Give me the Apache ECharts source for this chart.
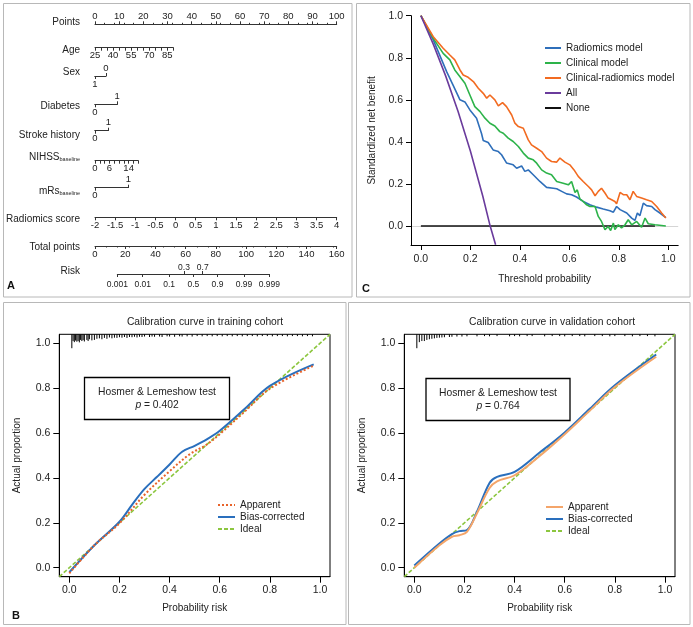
<!DOCTYPE html>
<html><head><meta charset="utf-8">
<script src="https://cdn.jsdelivr.net/npm/echarts@6/dist/echarts.min.js"></script>
<style>html,body{margin:0;padding:0;background:#fff}#c{width:693px;height:627px}</style>
</head><body><div id="c"></div>
<script>
// ---------------- DATA ----------------
// Nomogram (A)
const nomoRowNames = ['Points','Age','Sex','Diabetes','Stroke history','NIHSS','mRs','Radiomics score','Total points','Risk'];
const pointsTicks = [0,10,20,30,40,50,60,70,80,90,100];
const ageTicks = [25,30,35,40,45,50,55,60,65,70,75,80,85,90];
const ageLabels = [25,40,55,70,85];
const agePointsAtMax = 32.4;       // points for age 90
const sexPoints = 4.5;             // points for Sex = 0
const diabetesPoints = 9.2;        // points for Diabetes = 1
const strokePoints = 5.5;          // points for Stroke history = 1
const nihssTicks = [0,2,4,6,8,10,12,14,16,18];
const nihssLabels = [0,6,14];
const nihssPointsAtMax = 17.9;
const mrsPoints = 13.8;            // points for mRs = 1
const radTicks = [-2,-1.5,-1,-0.5,0,0.5,1,1.5,2,2.5,3,3.5,4];
const totalTicks = [0,20,40,60,80,100,120,140,160];
const riskLabels = ['0.001','0.01','0.1','0.3','0.5','0.7','0.9','0.99','0.999'];
const riskTotalPoints = [14.8,31.6,49.1,58.9,65.1,71.3,81.1,98.6,115.4];
const riskTopLabels = ['0.3','0.7'];

// Decision curve (C)
const dcaNames = ['Radiomics model','Clinical model','Clinical-radiomics model','All','None'];
const dcaRadiomics = [[0,1],[0.05,0.885],[0.104,0.734],[0.13,0.67],[0.158,0.6],[0.178,0.59],[0.198,0.552],[0.225,0.513],[0.245,0.44],[0.252,0.407],[0.272,0.397],[0.292,0.362],[0.313,0.354],[0.326,0.339],[0.346,0.3],[0.373,0.291],[0.387,0.275],[0.407,0.286],[0.42,0.26],[0.434,0.267],[0.454,0.244],[0.481,0.212],[0.508,0.184],[0.535,0.18],[0.549,0.177],[0.569,0.165],[0.589,0.153],[0.609,0.149],[0.629,0.138],[0.656,0.117],[0.683,0.101],[0.71,0.09],[0.737,0.081],[0.764,0.073],[0.778,0.066],[0.791,0.093],[0.805,0.078],[0.832,0.062],[0.852,0.038],[0.865,0.027],[0.875,0.062],[0.885,0.049],[0.899,0.109],[0.912,0.097],[0.933,0.093],[0.946,0.078],[0.966,0.062],[0.99,0.04]];
const dcaClinical = [[0,1],[0.05,0.892],[0.09,0.821],[0.117,0.79],[0.137,0.742],[0.158,0.71],[0.178,0.679],[0.198,0.623],[0.218,0.568],[0.239,0.544],[0.259,0.513],[0.279,0.489],[0.299,0.476],[0.319,0.449],[0.333,0.441],[0.353,0.418],[0.373,0.402],[0.394,0.378],[0.414,0.347],[0.434,0.323],[0.454,0.315],[0.468,0.299],[0.488,0.267],[0.508,0.252],[0.528,0.244],[0.549,0.212],[0.575,0.204],[0.596,0.196],[0.609,0.212],[0.623,0.16],[0.632,0.172],[0.643,0.128],[0.656,0.117],[0.67,0.101],[0.683,0.093],[0.704,0.093],[0.717,0.046],[0.73,0.022],[0.744,-0.017],[0.757,-0.002],[0.767,-0.021],[0.778,0.014],[0.784,-0.017],[0.798,0.006],[0.811,-0.009],[0.825,0.006],[0.838,0.03],[0.852,0.006],[0.872,0.022],[0.892,-0.006],[0.906,0.038],[0.919,0.011],[0.946,0.006],[0.99,0]];
const dcaCombined = [[0,1],[0.05,0.9],[0.09,0.845],[0.117,0.813],[0.137,0.79],[0.158,0.742],[0.171,0.718],[0.191,0.707],[0.212,0.687],[0.232,0.655],[0.252,0.631],[0.266,0.608],[0.279,0.623],[0.299,0.6],[0.313,0.571],[0.33,0.587],[0.346,0.568],[0.367,0.528],[0.38,0.489],[0.394,0.473],[0.414,0.465],[0.434,0.41],[0.447,0.386],[0.468,0.37],[0.488,0.354],[0.508,0.323],[0.528,0.307],[0.549,0.304],[0.562,0.323],[0.582,0.304],[0.602,0.291],[0.619,0.267],[0.636,0.236],[0.656,0.212],[0.677,0.188],[0.69,0.172],[0.704,0.144],[0.717,0.165],[0.73,0.18],[0.744,0.157],[0.757,0.133],[0.771,0.125],[0.784,0.117],[0.791,0.106],[0.805,0.16],[0.818,0.149],[0.832,0.149],[0.845,0.125],[0.858,0.165],[0.872,0.141],[0.892,0.133],[0.912,0.125],[0.933,0.117],[0.953,0.093],[0.973,0.062],[0.99,0.038]];
const dcaAll = [[0,1],[0.05,0.865],[0.1,0.714],[0.15,0.546],[0.2,0.357],[0.25,0.143],[0.28,0],[0.302,-0.089]];
const dcaNone = [[0,0],[0.946,0]];
const dcaTicks = [0,0.2,0.4,0.6,0.8,1.0];

// Calibration (B, D)
const calNames = ['Apparent','Bias-corrected','Ideal'];
const calTicks = [0,0.2,0.4,0.6,0.8,1.0];
const trainApparent = [[0,-0.025],[0.1,0.1],[0.2,0.198],[0.3,0.325],[0.4,0.43],[0.48,0.505],[0.55,0.55],[0.6,0.595],[0.7,0.696],[0.8,0.798],[0.975,0.9]];
const trainBias = [[0,-0.02],[0.1,0.1],[0.2,0.205],[0.25,0.28],[0.3,0.351],[0.35,0.405],[0.4,0.46],[0.45,0.517],[0.5,0.543],[0.55,0.573],[0.6,0.61],[0.7,0.708],[0.8,0.81],[0.975,0.906]];
const validApparent = [[0,0],[0.1,0.1],[0.15,0.138],[0.18,0.145],[0.21,0.16],[0.25,0.243],[0.3,0.355],[0.33,0.385],[0.4,0.412],[0.5,0.498],[0.6,0.595],[0.7,0.7],[0.8,0.805],[0.965,0.94]];
const validBias = [[0,0.01],[0.1,0.108],[0.15,0.15],[0.18,0.163],[0.21,0.168],[0.25,0.25],[0.3,0.378],[0.33,0.405],[0.4,0.427],[0.5,0.513],[0.6,0.603],[0.7,0.708],[0.8,0.813],[0.965,0.95]];
const idealLine = [[-0.04,-0.04],[1.04,1.04]];
const trainRugX = [0.01,0.015,0.02,0.025,0.03,0.035,0.04,0.045,0.05,0.055,
  0.06,0.07,0.075,0.08,0.09,0.10,0.11,0.12,0.13,0.14,
  0.15,0.16,0.17,0.18,0.19,0.20,0.21,0.22,0.23,0.24,
  0.25,0.26,0.27,0.28,0.29,0.30,0.32,0.33,0.34,0.36,
  0.37,0.39,0.40,0.42,0.44,0.45,0.47,0.49,0.51,0.53,
  0.55,0.57,0.59,0.61,0.63,0.65,0.67,0.69,0.71,0.73,
  0.75,0.77,0.79,0.81,0.83,0.85,0.87,0.89,0.91,0.93,
  0.95,0.97];
const trainRugLen = [0.062,0.03,0.035,0.028,0.033,0.03,0.036,0.025,0.03,0.026,
  0.032,0.025,0.03,0.022,0.027,0.025,0.02,0.018,0.022,0.016,
  0.02,0.014,0.018,0.015,0.016,0.013,0.015,0.012,0.016,0.012,
  0.013,0.011,0.014,0.011,0.012,0.01,0.012,0.01,0.011,0.01,
  0.012,0.009,0.01,0.011,0.009,0.01,0.009,0.01,0.008,0.009,
  0.008,0.009,0.008,0.009,0.008,0.009,0.008,0.009,0.008,0.008,
  0.009,0.008,0.008,0.009,0.008,0.008,0.009,0.008,0.008,0.009,
  0.008,0.009];
const validRugX = [0.01,0.02,0.03,0.04,0.05,0.06,0.07,0.08,0.09,0.10,0.11,0.12,0.14,0.15,0.17,0.19,0.21,0.25,0.28,0.30,0.33,0.38,0.40,0.42,0.45,0.47,0.52,0.55,0.58,0.60,0.63,0.66,0.68,0.72,0.75,0.78,0.80,0.84,0.87,0.90,0.93,0.96];
const validRugLen = [0.062,0.035,0.03,0.03,0.025,0.022,0.02,0.018,0.016,0.015,0.014,0.013,0.012,0.011,0.01,0.01,0.009,0.009,0.008,0.009,0.008,0.009,0.008,0.009,0.008,0.008,0.009,0.008,0.008,0.009,0.008,0.008,0.009,0.008,0.008,0.009,0.008,0.008,0.009,0.008,0.008,0.009];

// ---------------- STYLE / LAYOUT ----------------
const F = "'Liberation Sans',Arial,sans-serif";
const TXT = '#222';
const AX = '#333';
const NX = 95, PPX = 2.417, TPX = 241.7/160;

const grids = [], xAxes = [], yAxes = [], series = [], graphics = [], titles = [], legends = [];

function lab(extra){ return Object.assign({fontSize:9.5, color:TXT, fontFamily:F, margin:3, hideOverlap:false, showMinLabel:true, showMaxLabel:true}, extra||{}); }

function nomoGrid(y, left, width){
  const gi = grids.length;
  grids.push({left:left, top:y, width:width, height:0, outerBoundsMode:'none'});
  yAxes.push({gridIndex:gi, type:'value', min:0, max:1, show:false});
  return gi;
}
function nomoAxis(gi, o){
  xAxes.push({
    gridIndex:gi, type:'value', position:o.pos, min:o.min, max:o.max, inverse:!!o.inverse,
    splitLine:{show:false},
    axisLine:{show:true, onZero:false, lineStyle:{color:AX, width:1}},
    axisTick:{show:true, length:o.tickLen||3, customValues:o.ticks, lineStyle:{color:AX}},
    minorTick:{show:!!o.minor, splitNumber:o.minor||5, length:1.5, lineStyle:{color:AX}},
    axisLabel:lab({customValues:o.labels, formatter:o.fmt, fontSize:o.fs||9.5, margin:o.margin||3}),
  });
}

// Row label positions (axis line y) and label y
const rowY =   [24.3, 47.7, 76, 104.3, 130.7, 160.7, 187.7, 217.3, 246, 274];
const rowLabY =[22, 50, 72, 106.5, 135, 157, 191.5, 219, 247.7, 271];

// Points
let g = nomoGrid(rowY[0], NX, 100*PPX);
nomoAxis(g, {pos:'top', min:0, max:100, ticks:pointsTicks, labels:pointsTicks, minor:5});
// Age
g = nomoGrid(rowY[1], NX, agePointsAtMax*PPX);
nomoAxis(g, {pos:'bottom', min:ageTicks[0], max:ageTicks[ageTicks.length-1], ticks:ageTicks, labels:ageLabels});
// Sex (0 at right)
g = nomoGrid(rowY[2], NX, sexPoints*PPX);
nomoAxis(g, {pos:'top', min:0, max:1, inverse:true, ticks:[0], labels:[0]});
nomoAxis(g, {pos:'bottom', min:0, max:1, inverse:true, ticks:[1], labels:[1]});
// Diabetes
g = nomoGrid(rowY[3], NX, diabetesPoints*PPX);
nomoAxis(g, {pos:'top', min:0, max:1, ticks:[1], labels:[1]});
nomoAxis(g, {pos:'bottom', min:0, max:1, ticks:[0], labels:[0]});
// Stroke history
g = nomoGrid(rowY[4], NX, strokePoints*PPX);
nomoAxis(g, {pos:'top', min:0, max:1, ticks:[1], labels:[1]});
nomoAxis(g, {pos:'bottom', min:0, max:1, ticks:[0], labels:[0]});
// NIHSS
g = nomoGrid(rowY[5], NX, nihssPointsAtMax*PPX);
nomoAxis(g, {pos:'bottom', min:0, max:18, ticks:nihssTicks, labels:nihssLabels});
// mRs
g = nomoGrid(rowY[6], NX, mrsPoints*PPX);
nomoAxis(g, {pos:'top', min:0, max:1, ticks:[1], labels:[1]});
nomoAxis(g, {pos:'bottom', min:0, max:1, ticks:[0], labels:[0]});
// Radiomics score
g = nomoGrid(rowY[7], NX, 100*PPX);
nomoAxis(g, {pos:'bottom', min:-2, max:4, ticks:radTicks, labels:radTicks});
// Total points
g = nomoGrid(rowY[8], NX, 160*TPX);
nomoAxis(g, {pos:'bottom', min:0, max:160, ticks:totalTicks, labels:totalTicks, minor:4});
// Risk
const rMin = riskTotalPoints[0], rMax = riskTotalPoints[riskTotalPoints.length-1];
g = nomoGrid(rowY[9], NX + rMin*TPX, (rMax-rMin)*TPX);
function riskFmt(v){ let bi=0; riskTotalPoints.forEach((p,i)=>{ if(Math.abs(p-v)<Math.abs(riskTotalPoints[bi]-v)) bi=i; }); return riskLabels[bi]; }
const riskBottomVals = riskTotalPoints.filter((p,i)=>riskTopLabels.indexOf(riskLabels[i])<0);
const riskTopVals = riskTotalPoints.filter((p,i)=>riskTopLabels.indexOf(riskLabels[i])>=0);
nomoAxis(g, {pos:'bottom', min:rMin, max:rMax, ticks:riskBottomVals, labels:riskBottomVals, fmt:riskFmt, fs:8.5, margin:6});
nomoAxis(g, {pos:'top', min:rMin, max:rMax, ticks:riskTopVals, labels:riskTopVals, fmt:riskFmt, fs:8.5, margin:2});

// Row names
nomoRowNames.forEach((n,i)=>{
  let text = n, rich;
  if (n==='NIHSS' || n==='mRs') { text = '{m|'+n+'}{s|baseline}'; rich = {m:{fontSize:10, fontFamily:F, fill:TXT}, s:{fontSize:5.5, fontFamily:F, fill:TXT, padding:[4,0,0,0]}}; }
  graphics.push({type:'text', x:80, y:rowLabY[i], style:{text:text, rich:rich, align:'right', verticalAlign:'middle', fontSize:10, fontFamily:F, fill:TXT}});
});

// ---------------- DCA (C) ----------------
const gD = grids.length;
grids.push({left:411, top:15.7, width:267.2, height:229.3, outerBoundsMode:'none'});
xAxes.push({gridIndex:gD, type:'value', min:-0.04, max:1.04, name:'Threshold probability', nameLocation:'middle', nameGap:29,
  nameTextStyle:{fontSize:10, color:TXT, fontFamily:F},
  axisLine:{onZero:false, lineStyle:{color:'#000'}}, axisTick:{customValues:dcaTicks, length:5, lineStyle:{color:'#000'}},
  axisLabel:lab({customValues:dcaTicks, formatter:v=>v.toFixed(1), fontSize:10.5, margin:9}), splitLine:{show:false}});
yAxes.push({gridIndex:gD, type:'value', min:-0.09, max:1.0, name:'Standardized net benefit', nameLocation:'middle', nameGap:34, nameRotate:90,
  nameTextStyle:{fontSize:10, color:TXT, fontFamily:F},
  axisLine:{show:true, onZero:false, lineStyle:{color:'#000'}}, axisTick:{show:true, customValues:dcaTicks, length:5, lineStyle:{color:'#000'}},
  axisLabel:lab({customValues:dcaTicks, formatter:v=>v.toFixed(1), fontSize:10.5, margin:8}), splitLine:{show:false}});
const dcaData = [dcaRadiomics, dcaClinical, dcaCombined, dcaAll, dcaNone];
const dcaColors = ['#2f6fba','#2db34a','#f26b21','#6a3b9c','#111'];
const xiD = xAxes.length-1, yiD = yAxes.length-1;
dcaData.forEach((d,i)=>{
  const s = {type:'line', name:dcaNames[i], xAxisIndex:xiD, yAxisIndex:yiD, data:d, symbol:'none', lineStyle:{color:dcaColors[i], width:1.6}, itemStyle:{color:dcaColors[i]}, z: i===4?1:3, animation:false};
  if (i===4) s.markLine = {silent:true, symbol:'none', label:{show:false}, lineStyle:{color:'#d5d5d5', type:'solid', width:1}, data:[{yAxis:0}], z:0};
  series.push(s);
});
legends.push({data:dcaNames, orient:'vertical', left:539, top:38, itemWidth:16, itemHeight:10, itemGap:5,
  itemStyle:{opacity:0}, textStyle:{fontSize:10, color:TXT, fontFamily:F}, selectedMode:false});

// ---------------- Calibration (B, D) ----------------
// suffix keeps each panel's legend tied to its own series; it is trimmed in the legend text
function calPanel(left, suffix, title, titleX, app, bias, appStyle, rugX, rugLen, legendLeft, legendTop, box, pval){
  const gi = grids.length;
  grids.push({left:left, top:334.3, width:270.7, height:242.4, show:true, borderColor:'#000', borderWidth:1, backgroundColor:'transparent', outerBoundsMode:'none'});
  xAxes.push({gridIndex:gi, type:'value', min:-0.04, max:1.04, name:'Probability risk', nameLocation:'middle', nameGap:27,
    nameTextStyle:{fontSize:10, color:TXT, fontFamily:F},
    axisLine:{onZero:false, lineStyle:{color:'#000'}}, axisTick:{customValues:calTicks, length:6, lineStyle:{color:'#000'}},
    axisLabel:lab({customValues:calTicks, formatter:v=>v.toFixed(1), fontSize:10.5, margin:8}), splitLine:{show:false}});
  yAxes.push({gridIndex:gi, type:'value', min:-0.04, max:1.04, name:'Actual proportion', nameLocation:'middle', nameGap:37, nameRotate:90,
    nameTextStyle:{fontSize:10, color:TXT, fontFamily:F},
    axisLine:{show:true, onZero:false, lineStyle:{color:'#000'}}, axisTick:{show:true, customValues:calTicks, length:6, lineStyle:{color:'#000'}},
    axisLabel:lab({customValues:calTicks, formatter:v=>v.toFixed(1), fontSize:10.5, margin:9}), splitLine:{show:false}});
  const xi = xAxes.length-1, yi = yAxes.length-1;
  const nm = calNames.map(n=>n+suffix);
  series.push({type:'line', name:nm[2], xAxisIndex:xi, yAxisIndex:yi, data:idealLine, symbol:'none', lineStyle:{color:'#8cc63f', width:1.6, type:[4,2]}, itemStyle:{color:'#8cc63f'}, z:2, animation:false});
  series.push({type:'line', name:nm[0], xAxisIndex:xi, yAxisIndex:yi, data:app, symbol:'none', smooth:0.35, lineStyle:appStyle, itemStyle:{color:appStyle.color}, z:4, animation:false});
  series.push({type:'line', name:nm[1], xAxisIndex:xi, yAxisIndex:yi, data:bias, symbol:'none', smooth:0.35, lineStyle:{color:'#2a6fbd', width:2}, itemStyle:{color:'#2a6fbd'}, z:3, animation:false});
  series.push({type:'custom', xAxisIndex:xi, yAxisIndex:yi, data:rugX.map((x,i)=>[x, rugLen[i]]), silent:true, animation:false,
    renderItem:(p, api)=>{ const x=api.value(0), l=api.value(1); const a=api.coord([x,1.04]), b=api.coord([x,1.04-l]);
      return {type:'line', shape:{x1:a[0], y1:a[1], x2:b[0], y2:b[1]}, style:{stroke:'#000', lineWidth:1}}; }});
  titles.push({text:title, left:titleX, top:312, textAlign:'center', textStyle:{fontSize:10.3, fontWeight:'normal', color:TXT, fontFamily:F}});
  legends.push({data:nm, formatter:n=>n.trim(), orient:'vertical', left:legendLeft, top:legendTop, itemWidth:17, itemHeight:10, itemGap:2,
    itemStyle:{opacity:0}, textStyle:{fontSize:10, color:TXT, fontFamily:F}, selectedMode:false});
  graphics.push({type:'rect', shape:{x:box[0], y:box[1], width:box[2], height:box[3]}, style:{fill:'none', stroke:'#000', lineWidth:1.3}});
  graphics.push({type:'text', x:box[0]+box[2]/2, y:box[1]+15, style:{text:'Hosmer & Lemeshow test', align:'center', verticalAlign:'middle', fontSize:10.3, fontFamily:F, fill:TXT}});
  graphics.push({type:'text', x:box[0]+box[2]/2, y:box[1]+28, style:{text:'{i|p} = '+pval, rich:{i:{fontStyle:'italic', fontSize:10.3, fontFamily:F, fill:TXT}}, align:'center', verticalAlign:'middle', fontSize:10.3, fontFamily:F, fill:TXT}});
}
calPanel(59.3, '', 'Calibration curve in training cohort', 200, trainApparent, trainBias, {color:'#e8632a', width:2, type:'dotted'}, trainRugX, trainRugLen, 212, 495, [84.5,377.5,145,42], '0.402');
calPanel(404.3, ' ', 'Calibration curve in validation cohort', 547, validApparent, validBias, {color:'#f4a56a', width:2}, validRugX, validRugLen, 540, 497, [426,378.5,144,42], '0.764');

// Panel frames and letters
[[3.5,3.5,348.5,293.5],[356.5,3.5,333.5,293.5],[3.5,302.5,342.5,322],[348.5,302.5,341.5,322]].forEach(r=>{
  graphics.push({type:'rect', shape:{x:r[0], y:r[1], width:r[2], height:r[3]}, style:{fill:'none', stroke:'#b8b8b8', lineWidth:1}, z:-1});
});
[['A',7,286],['C',362,289],['B',12,616]].forEach(t=>{
  graphics.push({type:'text', x:t[1], y:t[2], style:{text:t[0], align:'left', verticalAlign:'middle', fontSize:11, fontWeight:'bold', fontFamily:F, fill:'#111'}});
});

const chart = echarts.init(document.getElementById('c'), null, {renderer:'canvas'});
chart.setOption({
  animation:false, backgroundColor:'#fff',
  title:titles, grid:grids, xAxis:xAxes, yAxis:yAxes, legend:legends, series:series, graphic:graphics
});
</script></body></html>
